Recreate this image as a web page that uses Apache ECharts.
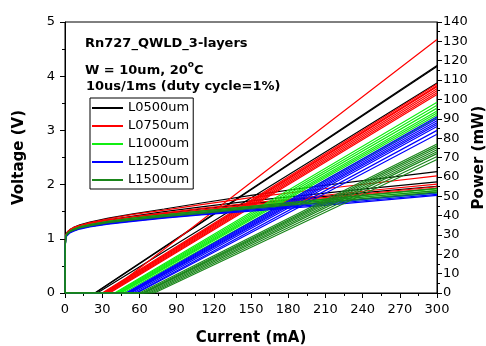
<!DOCTYPE html>
<html>
<head>
<meta charset="utf-8">
<script src="https://cdn.jsdelivr.net/npm/echarts@6/dist/echarts.min.js"></script>
<style>
  html, body { margin: 0; padding: 0; background: #fff; }
  #chart { width: 486px; height: 346px; }
</style>
</head>
<body>
<div id="chart"></div>
<script>
// Current sample points (mA) for the V-I curves
const currentMA = [0, 0.2, 0.5, 1, 2, 4, 7, 12, 20, 35, 55, 80, 110, 150, 200, 250, 300];

// Voltage (V) per device, grouped by cavity length
const voltL0500 = [
  [0, 0.86, 1.04, 1.09, 1.13, 1.17, 1.21, 1.26, 1.31, 1.38, 1.46, 1.55, 1.66, 1.80, 1.96, 2.10, 2.24],
  [0, 0.85, 1.03, 1.08, 1.12, 1.16, 1.20, 1.24, 1.29, 1.35, 1.42, 1.50, 1.59, 1.70, 1.82, 1.94, 2.05],
  [0, 0.84, 1.02, 1.07, 1.11, 1.15, 1.19, 1.23, 1.28, 1.34, 1.40, 1.47, 1.55, 1.65, 1.76, 1.87, 1.97]
];
const voltL0750 = [
  [0, 0.86, 1.04, 1.09, 1.13, 1.17, 1.21, 1.25, 1.30, 1.37, 1.45, 1.53, 1.63, 1.76, 1.90, 2.03, 2.16],
  [0, 0.85, 1.03, 1.08, 1.12, 1.16, 1.20, 1.24, 1.29, 1.35, 1.41, 1.48, 1.56, 1.66, 1.78, 1.90, 2.01],
  [0, 0.84, 1.02, 1.07, 1.11, 1.15, 1.19, 1.23, 1.28, 1.33, 1.39, 1.46, 1.53, 1.63, 1.74, 1.85, 1.96],
  [0, 0.84, 1.02, 1.07, 1.11, 1.14, 1.18, 1.22, 1.27, 1.32, 1.38, 1.45, 1.52, 1.61, 1.72, 1.83, 1.93]
];
const voltL1000 = [
  [0, 0.84, 1.02, 1.07, 1.10, 1.14, 1.18, 1.22, 1.26, 1.32, 1.38, 1.44, 1.51, 1.60, 1.71, 1.82, 1.92],
  [0, 0.83, 1.01, 1.06, 1.10, 1.13, 1.17, 1.21, 1.25, 1.31, 1.36, 1.43, 1.49, 1.58, 1.69, 1.79, 1.89],
  [0, 0.83, 1.01, 1.05, 1.09, 1.13, 1.16, 1.20, 1.24, 1.30, 1.35, 1.41, 1.48, 1.56, 1.66, 1.76, 1.86],
  [0, 0.82, 1.00, 1.05, 1.08, 1.12, 1.15, 1.19, 1.23, 1.28, 1.34, 1.40, 1.46, 1.54, 1.64, 1.74, 1.84]
];
const voltL1250 = [
  [0, 0.83, 1.01, 1.06, 1.09, 1.13, 1.16, 1.20, 1.24, 1.30, 1.35, 1.41, 1.47, 1.55, 1.65, 1.75, 1.85],
  [0, 0.82, 1.00, 1.05, 1.08, 1.12, 1.15, 1.19, 1.23, 1.28, 1.33, 1.39, 1.45, 1.53, 1.62, 1.72, 1.82],
  [0, 0.82, 0.99, 1.04, 1.07, 1.11, 1.14, 1.18, 1.22, 1.27, 1.32, 1.38, 1.44, 1.51, 1.60, 1.70, 1.80]
];
const voltL1500 = [
  [0, 0.84, 1.02, 1.07, 1.11, 1.14, 1.18, 1.22, 1.26, 1.32, 1.38, 1.44, 1.51, 1.60, 1.71, 1.82, 1.93],
  [0, 0.83, 1.02, 1.06, 1.10, 1.14, 1.17, 1.21, 1.25, 1.31, 1.36, 1.43, 1.49, 1.58, 1.68, 1.79, 1.89],
  [0, 0.83, 1.01, 1.06, 1.09, 1.13, 1.16, 1.20, 1.24, 1.30, 1.35, 1.41, 1.47, 1.56, 1.66, 1.76, 1.86]
];

// L-I: threshold current (mA) and output power at 300 mA (mW) per device
const ithL0500 = [24, 24.5, 26];
const p300L0500 = [117.5, 117, 108.5];
const ithL0750 = [34, 30, 31, 32, 33, 34, 35, 36];
const p300L0750 = [131, 108, 107, 106.5, 105.5, 104.5, 103.5, 102.5];
const ithL1000 = [40, 41, 42, 43, 44, 45, 47];
const p300L1000 = [98.5, 97, 95.5, 94, 93, 92, 90.5];
const ithL1250 = [49, 50, 51, 52, 53, 55, 57, 58];
const p300L1250 = [91, 90, 89, 88, 87, 86, 84, 82];
const ithL1500 = [60, 62, 63, 64, 66, 68, 70, 72];
const p300L1500 = [77, 76, 75, 74, 73, 72, 70.5, 69];

const groups = [
  { name: 'L0500um', color: '#000000', volt: voltL0500, ith: ithL0500, p300: p300L0500 },
  { name: 'L0750um', color: '#ff0000', volt: voltL0750, ith: ithL0750, p300: p300L0750 },
  { name: 'L1000um', color: '#11ee11', volt: voltL1000, ith: ithL1000, p300: p300L1000 },
  { name: 'L1250um', color: '#0000ff', volt: voltL1250, ith: ithL1250, p300: p300L1250 },
  { name: 'L1500um', color: '#1a861a', volt: voltL1500, ith: ithL1500, p300: p300L1500 }
];

const series = [];
groups.forEach(g => {
  g.volt.forEach(v => {
    series.push({
      name: g.name, type: 'line', yAxisIndex: 0, symbol: 'none', silent: true,
      lineStyle: { color: g.color, width: 1.2 }, itemStyle: { color: g.color },
      data: currentMA.map((c, i) => [c, v[i]])
    });
  });
  g.ith.forEach((ith, i) => {
    series.push({
      name: g.name, type: 'line', yAxisIndex: 1, symbol: 'none', silent: true,
      lineStyle: { color: g.color, width: 1.2 }, itemStyle: { color: g.color },
      data: [[0, 0], [ith, 0], [300, g.p300[i]]]
    });
  });
});

const FONT = 'DejaVu Sans';
const axisCommon = {
  axisLine: { show: true, lineStyle: { color: '#000', width: 1 } },
  axisTick: { show: true, length: 5, lineStyle: { color: '#000' } },
  minorTick: { show: true, splitNumber: 2, length: 3, lineStyle: { color: '#000' } },
  splitLine: { show: false },
  nameTextStyle: { fontFamily: FONT, fontWeight: 'bold', fontSize: 15, color: '#000' }
};

const chart = echarts.init(document.getElementById('chart'), null, { renderer: 'canvas' });
chart.setOption({
  animation: false,
  backgroundColor: '#fff',
  grid: {
    left: 65, right: 49, top: 22, bottom: 53,
    show: true, borderColor: '#000', borderWidth: 1,
    containLabel: false, outerBoundsMode: 'none'
  },
  title: [
    { text: 'Rn727_QWLD_3-layers', left: 85, top: 37, padding: 0,
      textStyle: { fontFamily: FONT, fontWeight: 'bold', fontSize: 13, color: '#000' } },
    { text: '{b|W = 10um, 20}{s|o}{b|C}', left: 85, top: 60, padding: 0,
      textStyle: { rich: {
        b: { fontFamily: FONT, fontWeight: 'bold', fontSize: 13, color: '#000', lineHeight: 17, verticalAlign: 'bottom' },
        s: { fontFamily: FONT, fontWeight: 'bold', fontSize: 9, color: '#000', lineHeight: 17, verticalAlign: 'top' }
      } } },
    { text: '10us/1ms (duty cycle=1%)', left: 86, top: 80, padding: 0,
      textStyle: { fontFamily: FONT, fontWeight: 'bold', fontSize: 13, color: '#000' } }
  ],
  legend: {
    data: groups.map(g => g.name),
    orient: 'vertical', left: 90, top: 98,
    icon: 'rect', itemWidth: 31, itemHeight: 2, itemGap: 4,
    padding: [3, 4, 2, 2],
    borderColor: '#000', borderWidth: 1, backgroundColor: '#fff',
    textStyle: { fontFamily: FONT, fontSize: 13, color: '#000', lineHeight: 14 },
    selectedMode: false
  },
  xAxis: Object.assign({}, axisCommon, {
    type: 'value', min: 0, max: 300, interval: 30,
    name: 'Current (mA)', nameLocation: 'middle', nameGap: 38,
    axisLabel: { fontFamily: FONT, fontSize: 13, color: '#000', margin: 10 }
  }),
  yAxis: [
    Object.assign({}, axisCommon, {
      type: 'value', min: 0, max: 5, interval: 1, position: 'left',
      name: 'Voltage (V)', nameLocation: 'middle', nameGap: 38, nameRotate: 90,
      axisLabel: { fontFamily: FONT, fontSize: 13, color: '#000', margin: 10 }
    }),
    Object.assign({}, axisCommon, {
      type: 'value', min: 0, max: 140, interval: 10, position: 'right',
      name: 'Power (mW)', nameLocation: 'middle', nameGap: 35, nameRotate: 90,
      nameMoveOverlap: false,
      axisLabel: { fontFamily: FONT, fontSize: 13, color: '#000', margin: 6 }
    })
  ],
  series: series
});
</script>
</body>
</html>
